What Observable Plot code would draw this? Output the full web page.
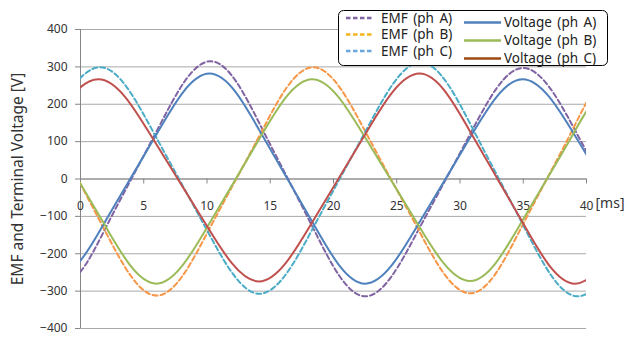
<!DOCTYPE html>
<html>
<head>
<meta charset="utf-8">
<script src="https://cdn.jsdelivr.net/npm/d3@7"></script>
<script src="https://cdn.jsdelivr.net/npm/@observablehq/plot@0.6"></script>
<style>
  html, body { margin: 0; padding: 0; background: #fff; }
  #chart { position: relative; width: 627px; height: 337px; }
</style>
</head>
<body>
<div id="chart"></div>
<script>
// Axis ticks
const timeTicks = [0, 5, 10, 15, 20, 25, 30, 35, 40];
const voltTicks = [-400, -300, -200, -100, 0, 100, 200, 300, 400];
const timeUnit = "[ms]";
const yTitle = "EMF and Terminal Voltage [V]";

// Phase A: back-EMF and terminal voltage (time in ms, value in V)
const emfATime = [-2.0, 0.05, 2.09, 4.14, 6.19, 8.23, 10.28, 12.32, 14.35, 16.39, 18.43, 20.46, 22.5, 24.58, 26.67, 28.75, 30.83, 32.92, 35.0, 37.1, 39.2, 41.3, 43.4];
const emfAValue = [-300, -246, -124, 8, 139, 261, 315, 260, 135, 1, -134, -259, -314, -261, -139, -9, 122, 244, 297, 244, 124, -7, -137];
const voltATime = [-2.1, -0.05, 2.0, 4.05, 6.1, 8.15, 10.2, 12.25, 14.3, 16.35, 18.4, 20.45, 22.5, 24.58, 26.65, 28.73, 30.8, 32.88, 34.95, 37.07, 39.18, 41.3, 43.42];
const voltAValue = [-268, -220, -111, 7, 125, 234, 282, 233, 121, 1, -119, -231, -280, -232, -124, -7, 111, 219, 267, 219, 111, -7, -124];

// Phase B
const emfBTime = [-6.3, -4.25, -2.2, -0.15, 1.9, 3.95, 6.0, 8.07, 10.13, 12.2, 14.27, 16.33, 18.4, 20.47, 22.53, 24.6, 26.67, 28.73, 30.8, 32.82, 34.83, 36.85, 38.87, 40.88, 42.9];
const emfBValue = [305, 251, 129, -4, -136, -258, -312, -259, -137, -7, 124, 246, 299, 246, 126, -4, -133, -253, -306, -253, -131, -1, 130, 252, 305];
const voltBTime = [-6.3, -4.25, -2.2, -0.15, 1.9, 3.95, 6.0, 8.05, 10.1, 12.15, 14.2, 16.25, 18.3, 20.38, 22.47, 24.55, 26.63, 28.72, 30.8, 32.82, 34.83, 36.85, 38.87, 40.88, 42.9];
const voltBValue = [272, 224, 114, -4, -122, -232, -280, -232, -124, -7, 111, 219, 267, 220, 113, -3, -119, -226, -273, -225, -117, -1, 116, 224, 272];

// Phase C
const emfCTime = [-4.95, -2.78, -0.62, 1.55, 3.65, 5.75, 7.85, 9.95, 12.05, 14.15, 16.28, 18.4, 20.53, 22.65, 24.78, 26.9, 28.97, 31.03, 33.1, 35.17, 37.23, 39.3, 41.37, 43.43];
const emfCValue = [-6, 125, 246, 299, 246, 126, -4, -134, -254, -307, -253, -130, 3, 135, 258, 312, 257, 133, -1, -135, -259, -314, -260, -139];
const voltCTime = [-5.1, -2.93, -0.77, 1.4, 3.52, 5.63, 7.75, 9.87, 11.98, 14.1, 16.22, 18.33, 20.45, 22.57, 24.68, 26.8, 28.85, 30.9, 32.95, 35.0, 37.05, 39.1, 41.17, 43.23];
const voltCValue = [-7, 111, 219, 267, 220, 113, -3, -119, -226, -274, -225, -115, 4, 123, 233, 282, 233, 121, 1, -119, -231, -280, -232, -124];

const seriesNames = ["EMF (ph A)", "EMF (ph B)", "EMF (ph C)", "Voltage (ph A)", "Voltage (ph B)", "Voltage (ph C)"];
const lineColors = ["#8064A2", "#F79646", "#4BACC6", "#4F81BD", "#9BBB59", "#C0504D"];
const legendColors = ["#8064A2", "#F2B51E", "#6AA6DE", "#4F81BD", "#9BBB59", "#9C4A12"];

const series = [
  {name: seriesNames[0], t: emfATime, v: emfAValue, dashed: true},
  {name: seriesNames[1], t: emfBTime, v: emfBValue, dashed: true},
  {name: seriesNames[2], t: emfCTime, v: emfCValue, dashed: true},
  {name: seriesNames[3], t: voltATime, v: voltAValue, dashed: false},
  {name: seriesNames[4], t: voltBTime, v: voltBValue, dashed: false},
  {name: seriesNames[5], t: voltCTime, v: voltCValue, dashed: false}
].map((s, i) => ({...s, color: lineColors[i], legendColor: legendColors[i]}));

const FONT = "'Noto Sans', 'Noto Sans CJK KR', sans-serif";
const GRID = "#a9a9a9";
const AXIS = "#868686";
const DASH = "5,3";

const lineMarks = series.map(s =>
  Plot.line(s.t.map((t, i) => ({t, v: s.v[i]})), {
    x: "t", y: "v",
    stroke: s.color,
    strokeWidth: 2,
    strokeDasharray: s.dashed ? DASH : null,
    curve: "natural",
    clip: true
  })
);

const chart = Plot.plot({
  width: 627,
  height: 337,
  marginLeft: 80,
  marginRight: 41,
  marginTop: 29,
  marginBottom: 9,
  style: {fontFamily: FONT, fontSize: "12px", color: "#333", background: "#fff", overflow: "visible"},
  x: {domain: [timeTicks[0], timeTicks[timeTicks.length - 1]], axis: null},
  y: {domain: [voltTicks[0], voltTicks[voltTicks.length - 1]]},
  marks: [
    Plot.gridY(voltTicks, {stroke: GRID, strokeOpacity: 1}),
    Plot.axisY(voltTicks, {tickSize: 5, tickPadding: 8, stroke: AXIS, label: null, fontSize: 12}),
    Plot.ruleX([timeTicks[0]], {stroke: AXIS}),
    // x axis sits on the zero line, with small ticks hanging below it
    Plot.ruleY([0], {stroke: AXIS}),
    Plot.ruleX(timeTicks, {x: d => d, y1: 0, y2: 0, insetBottom: -5, stroke: AXIS}),
    Plot.text(timeTicks, {x: d => d, y: 0, dy: 27, text: d => String(d), fontSize: 12}),
    Plot.text([timeUnit], {x: () => timeTicks[timeTicks.length - 1], y: () => 0, dx: 9, dy: 25, textAnchor: "start", fontSize: 14}),
    Plot.text([yTitle], {frameAnchor: "left", textAnchor: "middle", rotate: -90, dx: -62, fontSize: 15.5}),
    ...lineMarks
  ]
});

// Legend box in the upper right corner
const svg = d3.select(chart);
const lg = svg.append("g")
  .attr("font-family", FONT).attr("font-size", 13.5)
  .attr("fill", "#222").attr("text-anchor", "start");
lg.append("rect")
  .attr("x", 338.5).attr("y", 10.5).attr("width", 269).attr("height", 55)
  .attr("rx", 5).attr("fill", "#fff").attr("stroke", "#000").attr("stroke-width", 1);
const rowsLeft = [18, 34.5, 51];
const rowsRight = [22.5, 40.5, 58.5];
series.forEach((s, i) => {
  const left = i < 3;
  const y = left ? rowsLeft[i] : rowsRight[i - 3];
  const x1 = left ? 346 : 464;
  const x2 = left ? 374 : 501;
  const tx = left ? 381 : 504;
  lg.append("line")
    .attr("x1", x1).attr("x2", x2).attr("y1", y).attr("y2", y)
    .attr("stroke", s.legendColor).attr("stroke-width", 2.5)
    .attr("stroke-dasharray", s.dashed ? "4.5,2.5" : null);
  lg.append("text")
    .attr("x", tx).attr("y", y).attr("dy", "0.35em")
    .attr("text-anchor", "start")
    .attr("word-spacing", "2px")
    .text(s.name);
});

document.getElementById("chart").appendChild(chart);
</script>
</body>
</html>
